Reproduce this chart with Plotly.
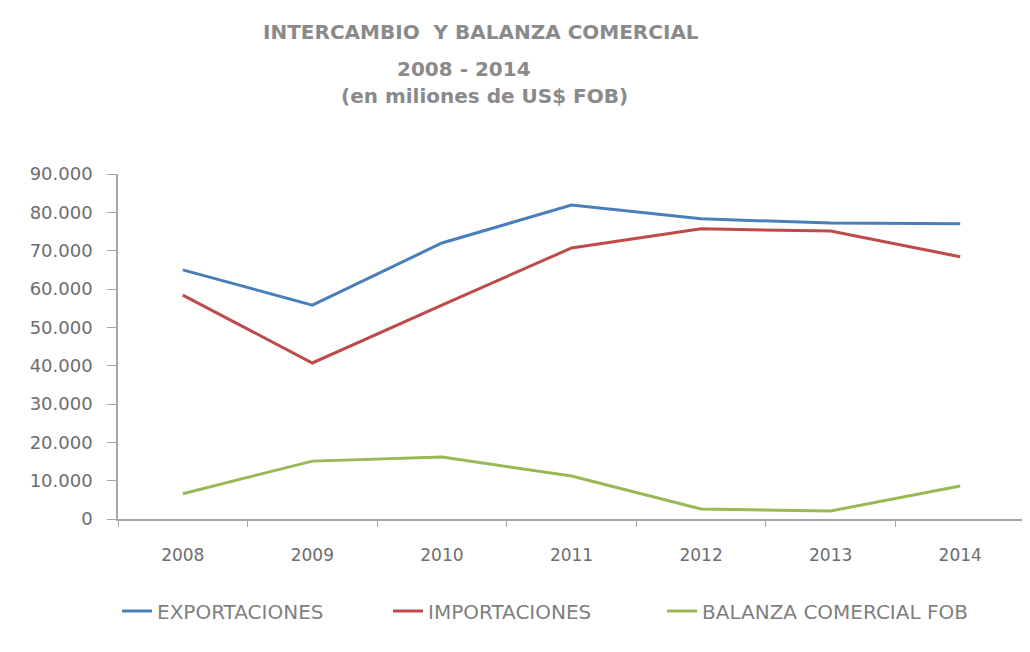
import plotly.graph_objects as go

years = ["2008", "2009", "2010", "2011", "2012", "2013", "2014"]
exportaciones = [65000, 55800, 72000, 81900, 78300, 77200, 77000]
importaciones = [58400, 40700, 55800, 70700, 75700, 75100, 68400]
balanza = [6600, 15100, 16200, 11200, 2600, 2100, 8600]
y_ticks = [0, 10000, 20000, 30000, 40000, 50000, 60000, 70000, 80000, 90000]
series_names = ["EXPORTACIONES", "IMPORTACIONES", "BALANZA COMERCIAL FOB"]
series_colors = ["#4a7ebb", "#be4b48", "#98b954"]

# page body adds an 8px offset; positions below are in page pixels
OFF = 8
W, H = 1030, 652
plot_left, plot_right, plot_top, plot_bottom = 118, 1025, 174, 519
L = plot_left - OFF
T = plot_top - OFF
R = W - (plot_right - OFF)
B = H - (plot_bottom - OFF)
PW, PH = W - L - R, H - T - B

fig = go.Figure()
legend_ids = ["legend", "legend2", "legend3"]
for name, vals, col, lg in zip(series_names, [exportaciones, importaciones, balanza],
                               series_colors, legend_ids):
    fig.add_trace(go.Scatter(x=years, y=vals, mode="lines", name=name, legend=lg,
                             line=dict(color=col, width=3)))

title_font = dict(family="DejaVu Sans", size=20, color="#8a8a8a", weight="bold")


def px_x(px):
    return (px - plot_left) / PW


def px_y(py):
    return (plot_bottom - py) / PH


annotations = [
    dict(text="INTERCAMBIO  Y BALANZA COMERCIAL", x=px_x(481), y=px_y(32)),
    dict(text="2008 - 2014", x=px_x(464), y=px_y(69)),
    dict(text="(en miliones de US$ FOB)", x=px_x(484), y=px_y(96)),
]
for a in annotations:
    a.update(xref="paper", yref="paper", showarrow=False, font=title_font,
             xanchor="center", yanchor="middle")

legend_font = dict(family="DejaVu Sans", size=20, color="#7f7f7f")
legend_text_starts = [157, 428, 702]
legends = {}
for lg, ts in zip(legend_ids, legend_text_starts):
    left = ts - 40 - OFF
    legends[lg] = dict(orientation="h", xref="container", yref="container",
                       x=left / W, xanchor="left", y=1 - (611 - OFF) / H, yanchor="middle",
                       font=legend_font, itemwidth=30, bgcolor="rgba(0,0,0,0)")

fig.update_layout(
    width=W, height=H,
    margin=dict(l=L, r=R, t=T, b=B, autoexpand=False),
    paper_bgcolor="white", plot_bgcolor="white",
    separators=",.",
    showlegend=True,
    annotations=annotations,
    **legends,
    xaxis=dict(type="category", range=[-0.5, 6.5], showline=True, linecolor="#a6a6a6",
               linewidth=1.5, ticks="outside", tickson="boundaries", ticklen=6,
               tickcolor="#a6a6a6", showgrid=False, zeroline=False, ticklabelstandoff=20,
               tickfont=dict(family="DejaVu Sans", size=17, color="#6d6d6d")),
    yaxis=dict(range=[0, 90000], tickvals=y_ticks, tickformat=",d",
               showline=True, linecolor="#a6a6a6", linewidth=1.5,
               ticks="outside", ticklen=9, tickcolor="#a6a6a6",
               showgrid=False, zeroline=False, ticklabelstandoff=11,
               tickfont=dict(family="DejaVu Sans", size=18, color="#6d6d6d")),
)
fig.write_html("out.html")
